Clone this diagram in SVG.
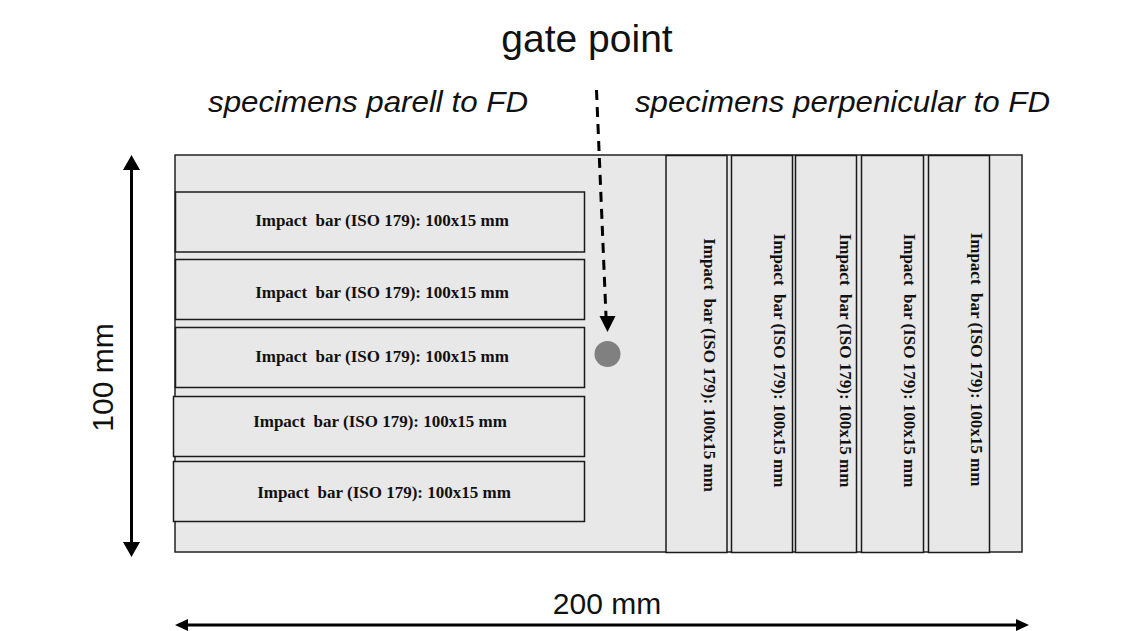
<svg xmlns="http://www.w3.org/2000/svg" width="1145" height="631" viewBox="0 0 1145 631">
<style>
.plate{fill:#e8e8e8;stroke:#222;stroke-width:1.5}
.bar{fill:#e8e8e8;stroke:#1a1a1a;stroke-width:1.5}
.bt{font-family:"Liberation Serif","Times New Roman",serif;font-weight:bold;font-size:17px;fill:#111;text-anchor:middle;white-space:pre}
.lab{font-family:"Liberation Sans",Arial,sans-serif;fill:#111}
.dim{stroke:#000;stroke-width:3;fill:none}
</style>
<rect width="1145" height="631" fill="#fff"/>
<g id="plate"><rect class="plate" x="175" y="155" width="847" height="397"/></g>
<g id="bar-h1"><rect class="bar" x="175.5" y="192" width="409" height="60"/><text class="bt" x="382" y="226" xml:space="preserve">Impact  bar (ISO 179): 100x15 mm</text></g>
<g id="bar-h2"><rect class="bar" x="175.5" y="259.5" width="409" height="60"/><text class="bt" x="382" y="298" xml:space="preserve">Impact  bar (ISO 179): 100x15 mm</text></g>
<g id="bar-h3"><rect class="bar" x="175.5" y="327.5" width="409" height="60"/><text class="bt" x="382" y="362" xml:space="preserve">Impact  bar (ISO 179): 100x15 mm</text></g>
<g id="bar-h4"><rect class="bar" x="173.5" y="396.5" width="411" height="60"/><text class="bt" x="380" y="427" xml:space="preserve">Impact  bar (ISO 179): 100x15 mm</text></g>
<g id="bar-h5"><rect class="bar" x="173.5" y="461.5" width="411" height="60"/><text class="bt" x="384" y="498" xml:space="preserve">Impact  bar (ISO 179): 100x15 mm</text></g>
<g id="bar-v1"><rect class="bar" x="666" y="155.5" width="61" height="397"/><text class="bt" transform="translate(704,365) rotate(90)" xml:space="preserve">Impact  bar (ISO 179): 100x15 mm</text></g>
<g id="bar-v2"><rect class="bar" x="731.5" y="155.5" width="61" height="397"/><text class="bt" transform="translate(774,360.5) rotate(90)" xml:space="preserve">Impact  bar (ISO 179): 100x15 mm</text></g>
<g id="bar-v3"><rect class="bar" x="795.5" y="155.5" width="61" height="397"/><text class="bt" transform="translate(840,360.5) rotate(90)" xml:space="preserve">Impact  bar (ISO 179): 100x15 mm</text></g>
<g id="bar-v4"><rect class="bar" x="861.5" y="155.5" width="62" height="397"/><text class="bt" transform="translate(904,360.5) rotate(90)" xml:space="preserve">Impact  bar (ISO 179): 100x15 mm</text></g>
<g id="bar-v5"><rect class="bar" x="928.5" y="155.5" width="61" height="397"/><text class="bt" transform="translate(971,359.5) rotate(90)" xml:space="preserve">Impact  bar (ISO 179): 100x15 mm</text></g>
<g id="gate"><circle cx="607.5" cy="354" r="13" fill="#808080"/></g>
<g id="labels">
<text class="lab" x="587" y="52" font-size="39" text-anchor="middle">gate point</text>
<text class="lab" x="208" y="112" font-size="29" font-style="italic" textLength="320" lengthAdjust="spacingAndGlyphs">specimens parell to FD</text>
<text class="lab" x="635" y="112" font-size="29" font-style="italic" textLength="415" lengthAdjust="spacingAndGlyphs">specimens perpenicular to FD</text>
<text class="lab" x="607" y="614" font-size="30" text-anchor="middle">200 mm</text>
<text class="lab" transform="translate(113,377.5) rotate(-90)" font-size="30" text-anchor="middle">100 mm</text>
</g>
<g id="connectors">
<line x1="596.5" y1="90" x2="606" y2="316" stroke="#000" stroke-width="3" stroke-dasharray="10,7"/>
<polygon points="599.5,316 615.5,316 607.5,332" fill="#000"/>
<line class="dim" x1="131.5" y1="168" x2="131.5" y2="543"/>
<polygon points="131.5,155 123,170 140,170" fill="#000"/>
<polygon points="131.5,557 123,542 140,542" fill="#000"/>
<line class="dim" x1="186" y1="625" x2="1018" y2="625"/>
<polygon points="175,625 188,619 188,631" fill="#000"/>
<polygon points="1029,625 1016,619 1016,631" fill="#000"/>
</g>
</svg>
